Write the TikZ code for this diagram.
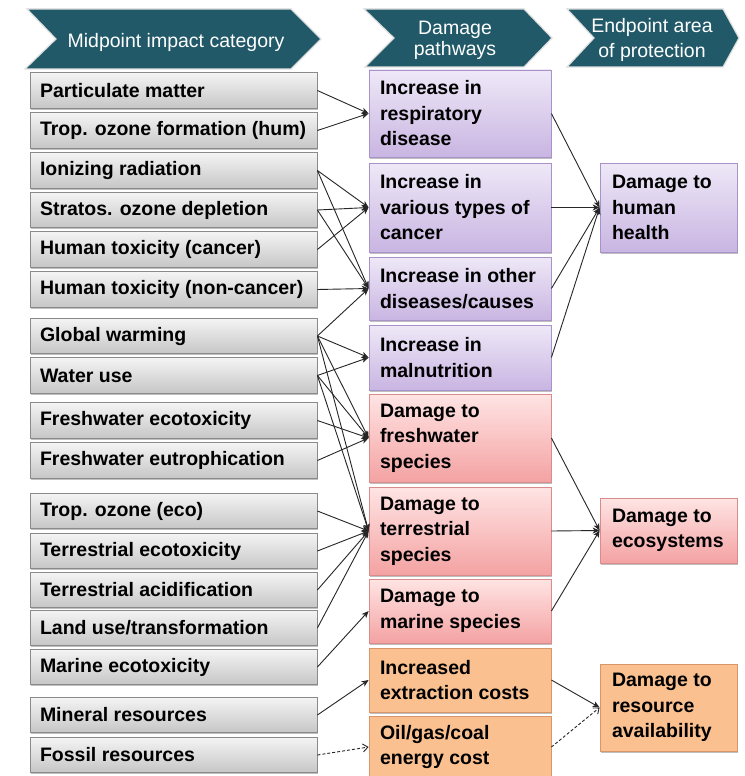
\documentclass[tikz,border=0pt]{standalone}
\usepackage{fontspec}
\setmainfont{Liberation Sans}
\usetikzlibrary{arrows.meta,shadows}
\definecolor{hdrteal}{HTML}{215968}
\definecolor{graytop}{HTML}{F4F4F4}
\definecolor{graybot}{HTML}{C6C6C6}
\definecolor{graybd}{HTML}{8A8A8A}
\definecolor{purtop}{HTML}{EEE8F7}
\definecolor{purbot}{HTML}{C9B5E2}
\definecolor{purbd}{HTML}{A892C8}
\definecolor{pinktop}{HTML}{FFE4E4}
\definecolor{pinkbot}{HTML}{F4A2A2}
\definecolor{pinkbd}{HTML}{D98C8C}
\definecolor{orfill}{HTML}{FAC090}
\definecolor{orbd}{HTML}{D9956A}
\newcommand{\txtL}[1]{\hspace*{10pt}\parbox[c]{277pt}{#1}}
\newcommand{\txtM}[1]{\hspace*{11pt}\parbox[c]{171pt}{\raggedright #1}}
\newcommand{\txtR}[1]{\hspace*{12pt}\parbox[c]{125pt}{\raggedright #1}}
\tikzset{
  boxfont/.style={font=\bfseries\fontsize{19.5}{25.5}\selectfont},
  shd/.style={drop shadow={shadow xshift=1.2pt, shadow yshift=-1.5pt, opacity=0.25, fill=black}},
  lbox/.style={boxfont, shd, draw=graybd, line width=0.8pt, top color=graytop, bottom color=graybot,
    minimum width=287pt, minimum height=35.5pt, inner sep=0pt},
  pbox/.style={boxfont, shd, draw=purbd, line width=0.8pt, top color=purtop, bottom color=purbot,
    inner sep=0pt},
  rbox/.style={boxfont, shd, draw=pinkbd, line width=0.8pt, top color=pinktop, bottom color=pinkbot,
    inner sep=0pt},
  obox/.style={boxfont, shd, draw=orbd, line width=0.8pt, fill=orfill, inner sep=0pt},
  mid/.style={minimum width=182pt},
  endp/.style={minimum width=137pt},
  chev/.style={fill=hdrteal, draw=gray!25, line width=1.2pt, line join=miter},
  hdrtxt/.style={text=white, align=center, inner sep=0pt},
  conn/.style={draw=black!85, line width=0.9pt, -{Stealth[length=7pt,width=6pt,inset=2pt]}},
  dconn/.style={draw=black!85, line width=0.9pt, dashed, dash pattern=on 3pt off 2pt,
    -{Straight Barb[length=5pt,width=8pt]}},
}
\begin{document}
\begin{tikzpicture}[x=1pt, y=-1pt]
\useasboundingbox (0,0) rectangle (744,776);
\fill[white] (0,0) rectangle (744,776);

% headers
\draw[chev] (27,9) -- (291,9) -- (321,39) -- (291,69) -- (25,69) -- (56,39) -- cycle;
\node[hdrtxt, font=\fontsize{19.5}{22}\selectfont] (h1) at (176,42.5) {Midpoint impact category};
\draw[chev] (364,9) -- (524,9) -- (552,38) -- (524,67) -- (365,67) -- (394,38) -- cycle;
\node[hdrtxt, font=\fontsize{19.5}{20.5}\selectfont] (h2) at (455,40.5) {Damage\\pathways};
\draw[chev] (567,9) -- (723,9) -- (739,38) -- (723,67) -- (567,67) -- (594,38) -- cycle;
\node[hdrtxt, font=\fontsize{19.5}{25}\selectfont] (h3) at (652,40) {Endpoint area\\of protection};

% left column
\node[lbox] (pm)  at (173.5,90.5)  {\txtL{Particulate matter}};
\node[lbox] (tof) at (173.5,130.5) {\txtL{Trop. ozone formation (hum)}};
\node[lbox] (ir)  at (173.5,170.5) {\txtL{Ionizing radiation}};
\node[lbox] (sod) at (173.5,210)   {\txtL{Stratos. ozone depletion}};
\node[lbox] (htc) at (173.5,249.5) {\txtL{Human toxicity (cancer)}};
\node[lbox] (htn) at (173.5,289.5) {\txtL{Human toxicity (non-cancer)}};
\node[lbox] (gw)  at (173.5,336)   {\txtL{Global warming}};
\node[lbox] (wu)  at (173.5,375.5) {\txtL{Water use}};
\node[lbox] (fe)  at (173.5,420.5) {\txtL{Freshwater ecotoxicity}};
\node[lbox] (feu) at (173.5,460.5) {\txtL{Freshwater eutrophication}};
\node[lbox] (toe) at (173.5,511)   {\txtL{Trop. ozone (eco)}};
\node[lbox] (te)  at (173.5,551)   {\txtL{Terrestrial ecotoxicity}};
\node[lbox] (ta)  at (173.5,590)   {\txtL{Terrestrial acidification}};
\node[lbox] (lu)  at (173.5,628)   {\txtL{Land use/transformation}};
\node[lbox] (me)  at (173.5,667)   {\txtL{Marine ecotoxicity}};
\node[lbox] (mr)  at (173.5,715)   {\txtL{Mineral resources}};
\node[lbox] (fr)  at (173.5,755)   {\txtL{Fossil resources}};

% middle column
\node[pbox, mid, minimum height=87pt] (resp) at (460,113.5) {\txtM{Increase in\\respiratory\\disease}};
\node[pbox, mid, minimum height=89pt] (canc) at (460,207.5) {\txtM{Increase in\\various types of\\cancer}};
\node[pbox, mid, minimum height=63pt] (oth)  at (460,288.5) {\txtM{Increase in other\\diseases/causes}};
\node[pbox, mid, minimum height=65pt] (maln) at (460,357.5) {\txtM{Increase in\\malnutrition}};
\node[rbox, mid, minimum height=88pt] (fws)  at (460,438)   {\txtM{Damage to\\freshwater\\species}};
\node[rbox, mid, minimum height=88pt] (trs)  at (460,531)   {\txtM{Damage to\\terrestrial\\species}};
\node[rbox, mid, minimum height=64pt] (mas)  at (460,611)   {\txtM{Damage to\\marine species}};
\node[obox, mid, minimum height=64pt] (exc)  at (460,680)   {\txtM{Increased\\extraction costs}};
\node[obox, mid, minimum height=62pt] (enc)  at (460,747)   {\txtM{Oil/gas/coal\\energy cost}};

% right column
\node[pbox, endp, minimum height=89pt] (hh)  at (668.5,207.5) {\txtR{Damage to\\human\\health}};
\node[rbox, endp, minimum height=65pt] (eco) at (668.5,530.5) {\txtR{Damage to\\ecosystems}};
\node[obox, endp, minimum height=87pt] (res) at (668.5,707.5) {\txtR{Damage to\\resource\\availability}};

% midpoint -> pathways
\draw[conn] (pm.east) -- (resp.west);
\draw[conn] (tof.east) -- (resp.west);
\draw[conn] (ir.east) -- (canc.west);
\draw[conn] (ir.east) -- (oth.west);
\draw[conn] (sod.east) -- (canc.west);
\draw[conn] (sod.east) -- (oth.west);
\draw[conn] (htc.east) -- (canc.west);
\draw[conn] (htn.east) -- (oth.west);
\draw[conn] (gw.east) -- (oth.west);
\draw[conn] (gw.east) -- (maln.west);
\draw[conn] (gw.east) -- (fws.west);
\draw[conn] (gw.east) -- (trs.west);
\draw[conn] (wu.east) -- (maln.west);
\draw[conn] (wu.east) -- (fws.west);
\draw[conn] (wu.east) -- (trs.west);
\draw[conn] (fe.east) -- (fws.west);
\draw[conn] (feu.east) -- (fws.west);
\draw[conn] (toe.east) -- (trs.west);
\draw[conn] (te.east) -- (trs.west);
\draw[conn] (ta.east) -- (trs.west);
\draw[conn] (lu.east) -- (trs.west);
\draw[conn] (me.east) -- (mas.west);
\draw[conn] (mr.east) -- (exc.west);
\draw[dconn] (fr.east) -- (enc.west);

% pathways -> endpoints
\draw[conn] (resp.east) -- (hh.west);
\draw[conn] (canc.east) -- (hh.west);
\draw[conn] (oth.east) -- (hh.west);
\draw[conn] (maln.east) -- (hh.west);
\draw[conn] (fws.east) -- (eco.west);
\draw[conn] (trs.east) -- (eco.west);
\draw[conn] (mas.east) -- (eco.west);
\draw[conn] (exc.east) -- (res.west);
\draw[dconn] (enc.east) -- (res.west);
\end{tikzpicture}
\end{document}
